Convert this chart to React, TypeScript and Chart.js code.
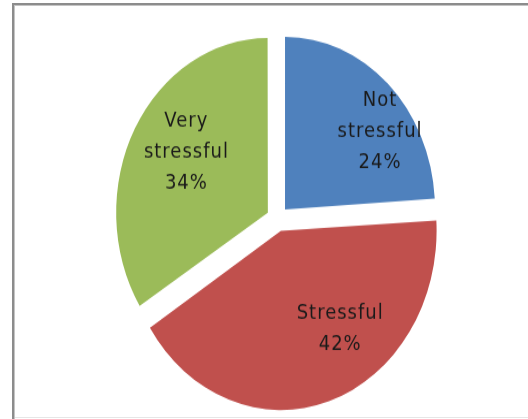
import React, { useEffect, useRef } from "react";
import { Chart, registerables } from "chart.js";

Chart.register(...registerables);

const categories = ["Not stressful", "Stressful", "Very stressful"];
const labelLines = [["Not", "stressful", "24%"], ["Stressful", "42%"], ["Very", "stressful", "34%"]];
const values = [24, 42, 34];
const colors = ["#4F81BD", "#C0504D", "#9BBB59"];

const W = 528;
const H = 364;
const STRETCH = 419 / H;

const labelPlugin = {
  id: "sliceLabels",
  afterDatasetsDraw(chart: any, _args: any, opts: any) {
    const ctx = chart.ctx;
    const meta = chart.getDatasetMeta(0);
    const place = opts.place;
    ctx.save();
    ctx.font = "18px 'DejaVu Sans'";
    (ctx as any).letterSpacing = "1px";
    ctx.fillStyle = "#1a1a1a";
    ctx.textAlign = "center";
    ctx.textBaseline = "middle";
    meta.data.forEach((arc: any, i: number) => {
      const p = arc.getProps(["x", "y", "startAngle", "endAngle", "outerRadius"], true);
      const a = p.startAngle + (p.endAngle - p.startAngle) * place[i].t;
      const r = p.outerRadius * place[i].r;
      const cx = p.x + Math.cos(a) * r;
      const cy = p.y + Math.sin(a) * r;
      const lines = labelLines[i];
      const lh = 27;
      lines.forEach((ln, j) => {
        ctx.fillText(ln, cx, cy + (j - (lines.length - 1) / 2) * lh);
      });
    });
    ctx.restore();
  },
};

export default function App() {
  const ref = useRef<HTMLCanvasElement>(null);
  useEffect(() => {
    const chart = new Chart(ref.current!, {
      type: "pie",
      data: {
        labels: categories,
        datasets: [
          {
            data: values,
            backgroundColor: colors,
            borderWidth: 0,
            offset: 44,
            hoverOffset: 0,
            radius: 150,
          } as any,
        ],
      },
      options: {
        responsive: false,
        animation: false,
        layout: { padding: { left: 27, top: 16 } },
        plugins: {
          legend: { display: false },
          tooltip: { enabled: false },
          sliceLabels: {
            place: [
              { t: 0.62, r: 0.85 },
              { t: 0.4, r: 0.765 },
              { t: 0.53, r: 0.72 },
            ],
          },
        } as any,
        events: [],
      },
      plugins: [labelPlugin],
    });
    return () => chart.destroy();
  }, []);

  return (
    <div style={{ position: "fixed", left: 0, top: 0, width: 528, height: 419, overflow: "hidden", background: "#fff" }}>
      <div style={{ position: "absolute", left: 12, top: 3, width: 600, height: 500, borderTop: "2px solid #8c8c8c", borderLeft: "2px solid #8c8c8c" }} />
      <div style={{ position: "absolute", left: 14, top: 5, width: 600, height: 500, borderTop: "1px solid #c4c4c4", borderLeft: "1px solid #c4c4c4" }} />
      <div style={{ position: "absolute", left: 15, top: 417, width: 600, height: 0, borderTop: "1px solid #e6e6e6" }} />
      <div style={{ position: "absolute", left: 0, top: 0, transform: `scaleY(${STRETCH})`, transformOrigin: "0 0" }}>
        <canvas ref={ref} width={W} height={H} style={{ display: "block" }} />
      </div>
    </div>
  );
}
